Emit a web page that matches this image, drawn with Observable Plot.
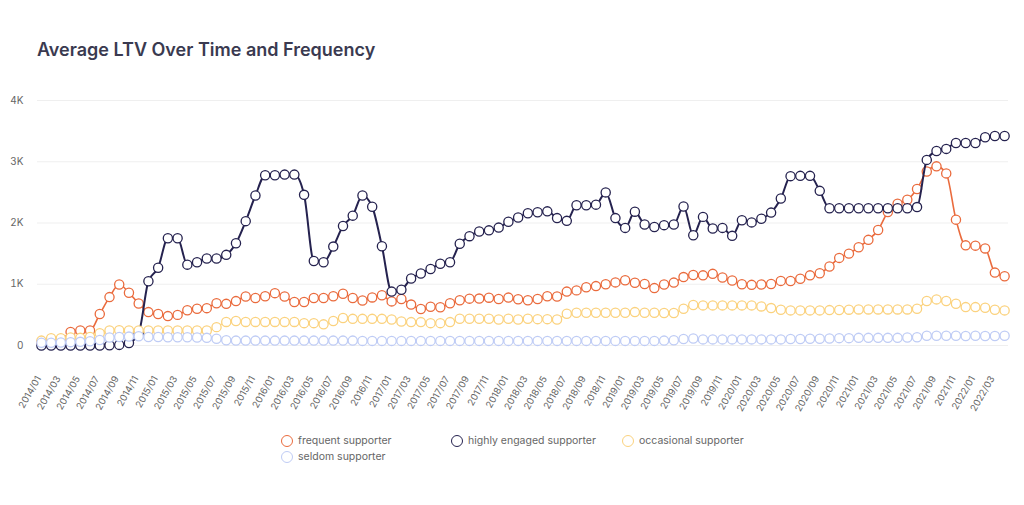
<!DOCTYPE html>
<html>
<head>
<meta charset="utf-8">
<script src="https://cdn.jsdelivr.net/npm/d3@7"></script>
<script src="https://cdn.jsdelivr.net/npm/@observablehq/plot@0.6"></script>
<style>
  html, body { margin: 0; padding: 0; background: #fff; }
  body { width: 1024px; height: 505px; overflow: hidden; position: relative; font-family: Inter, "Noto Sans", sans-serif; }
  #title { position: absolute; left: 37px; top: 39px; font-size: 18px; font-weight: 600; color: #3a3a50; }
  #chart { position: absolute; left: 0; top: 80px; }
  .item { position: absolute; font-size: 10.5px; color: #666; display: flex; align-items: center; white-space: nowrap; }
  .item .c { width: 12px; height: 12px; border-radius: 50%; border: 1.5px solid; margin-right: 5px; box-sizing: border-box; }
</style>
</head>
<body>
<div id="title">Average LTV Over Time and Frequency</div>
<div id="chart"></div>
<div id="legend"></div>
<script>
const months = [
  "2014/01","2014/02","2014/03","2014/04","2014/05","2014/06","2014/07","2014/08","2014/09","2014/10","2014/11","2014/12",
  "2015/01","2015/02","2015/03","2015/04","2015/05","2015/06","2015/07","2015/08","2015/09","2015/10","2015/11","2015/12",
  "2016/01","2016/02","2016/03","2016/04","2016/05","2016/06","2016/07","2016/08","2016/09","2016/10","2016/11","2016/12",
  "2017/01","2017/02","2017/03","2017/04","2017/05","2017/06","2017/07","2017/08","2017/09","2017/10","2017/11","2017/12",
  "2018/01","2018/02","2018/03","2018/04","2018/05","2018/06","2018/07","2018/08","2018/09","2018/10","2018/11","2018/12",
  "2019/01","2019/02","2019/03","2019/04","2019/05","2019/06","2019/07","2019/08","2019/09","2019/10","2019/11","2019/12",
  "2020/01","2020/02","2020/03","2020/04","2020/05","2020/06","2020/07","2020/08","2020/09","2020/10","2020/11","2020/12",
  "2021/01","2021/02","2021/03","2021/04","2021/05","2021/06","2021/07","2021/08","2021/09","2021/10","2021/11","2021/12",
  "2022/01","2022/02","2022/03","2022/04"
];
const tickMonths = months.filter((d, i) => i % 2 === 0);

const frequent = [
  50,60,80,220,245,245,515,790,995,860,
  685,545,515,480,500,575,600,610,690,680,
  725,800,775,805,855,800,710,710,775,775,
  805,845,775,735,785,820,720,760,668,597,
  632,624,690,740,765,766,781,760,782,755,
  740,760,805,800,880,900,950,970,1000,1030,
  1065,1025,1005,937,997,1027,1117,1150,1145,1170,
  1110,1062,1000,990,995,1005,1055,1052,1090,1145,
  1180,1290,1430,1500,1605,1725,1885,2180,2315,2380,
  2555,2840,2925,2810,2055,1635,1630,1585,1190,1130
];
const highlyEngaged = [
  0,0,0,0,0,0,0,5,10,40,
  200,1050,1270,1750,1750,1320,1360,1420,1420,1480,
  1670,2030,2450,2780,2780,2790,2790,2460,1380,1360,
  1615,1950,2120,2450,2265,1620,880,910,1095,1175,
  1250,1335,1360,1660,1785,1860,1880,1925,2020,2090,
  2160,2175,2190,2080,2035,2290,2290,2300,2500,2080,
  1920,2185,1975,1935,1965,1975,2270,1800,2100,1910,
  1920,1790,2045,2010,2070,2170,2400,2765,2770,2770,
  2525,2240,2240,2240,2240,2240,2240,2240,2240,2240,
  2260,3030,3175,3210,3305,3305,3305,3400,3420,3420
];
const occasional = [
  80,120,120,130,125,140,200,245,250,245,
  245,245,245,245,245,245,245,245,300,385,
  400,385,385,385,385,385,385,365,365,345,
  400,450,435,435,435,435,425,393,382,382,
  365,365,382,436,436,436,436,425,436,425,
  436,430,430,425,518,535,535,535,535,535,
  535,545,535,535,530,530,600,660,655,655,
  655,655,655,655,638,611,584,573,573,573,
  573,578,580,585,589,589,589,589,589,589,
  600,726,753,726,682,627,627,616,584,573
];
const seldom = [
  45,45,50,55,60,70,90,130,140,145,
  150,140,140,135,135,135,130,125,110,85,
  80,80,80,80,80,80,80,80,80,80,
  80,80,80,75,75,75,75,75,75,75,
  75,75,75,75,75,75,75,75,75,75,
  75,75,75,75,75,75,75,75,75,75,
  75,75,75,75,80,85,105,115,100,100,
  100,100,100,100,100,100,100,105,105,110,
  110,115,120,120,125,125,125,125,125,130,
  135,160,160,160,158,155,158,155,155,158
];

const seriesNames = ["frequent supporter", "highly engaged supporter", "occasional supporter", "seldom supporter"];
const seriesColors = ["#ea6b3d", "#25224f", "#fbd27e", "#bfccf5"];
const yTicks = [0, 1000, 2000, 3000, 4000];

const seriesValues = [frequent, highlyEngaged, occasional, seldom];
const rows = [];
seriesNames.forEach((name, s) => {
  seriesValues[s].forEach((v, i) => rows.push({series: name, month: months[i], value: v}));
});

const drawOrder = [0, 1, 2, 3];
const widths = [1.6, 2, 1.3, 1.3];
const marks = [];
drawOrder.forEach(s => {
  const d = rows.filter(r => r.series === seriesNames[s]);
  marks.push(Plot.line(d, {x: "month", y: "value", stroke: seriesColors[s], strokeWidth: widths[s], curve: "monotone-x"}));
  marks.push(Plot.dot(d, {x: "month", y: "value", r: 4.6, stroke: seriesColors[s], strokeWidth: 1.3, fill: "white"}));
});
marks.push(Plot.text(tickMonths, {x: d => d, frameAnchor: "bottom", rotate: -60, textAnchor: "end", dy: 33, fontSize: 9.5, fill: "#666"}));

const chart = Plot.plot({
  width: 1024,
  height: 345,
  marginLeft: 37,
  marginRight: 16,
  marginTop: 20,
  marginBottom: 80,
  style: {fontFamily: "Inter, 'Noto Sans', sans-serif", fontSize: "10px", color: "#666", background: "white"},
  x: {type: "point", domain: months, padding: 0.4, axis: null},
  y: {domain: [0, 4000], ticks: yTicks, tickFormat: d => d === 0 ? "0" : (d / 1000) + "K", tickSize: 0, tickPadding: 14, grid: true, label: null},
  marks
});
document.getElementById("chart").appendChild(chart);

const legend = document.getElementById("legend");
const legendPos = [[281, 434], [451, 434], [622, 434], [281, 450]];
seriesNames.forEach((name, s) => {
  const item = document.createElement("div");
  item.className = "item";
  item.style.left = legendPos[s][0] + "px";
  item.style.top = legendPos[s][1] + "px";
  const c = document.createElement("span");
  c.className = "c";
  c.style.borderColor = seriesColors[s];
  item.appendChild(c);
  item.appendChild(document.createTextNode(name));
  legend.appendChild(item);
});
</script>
</body>
</html>
